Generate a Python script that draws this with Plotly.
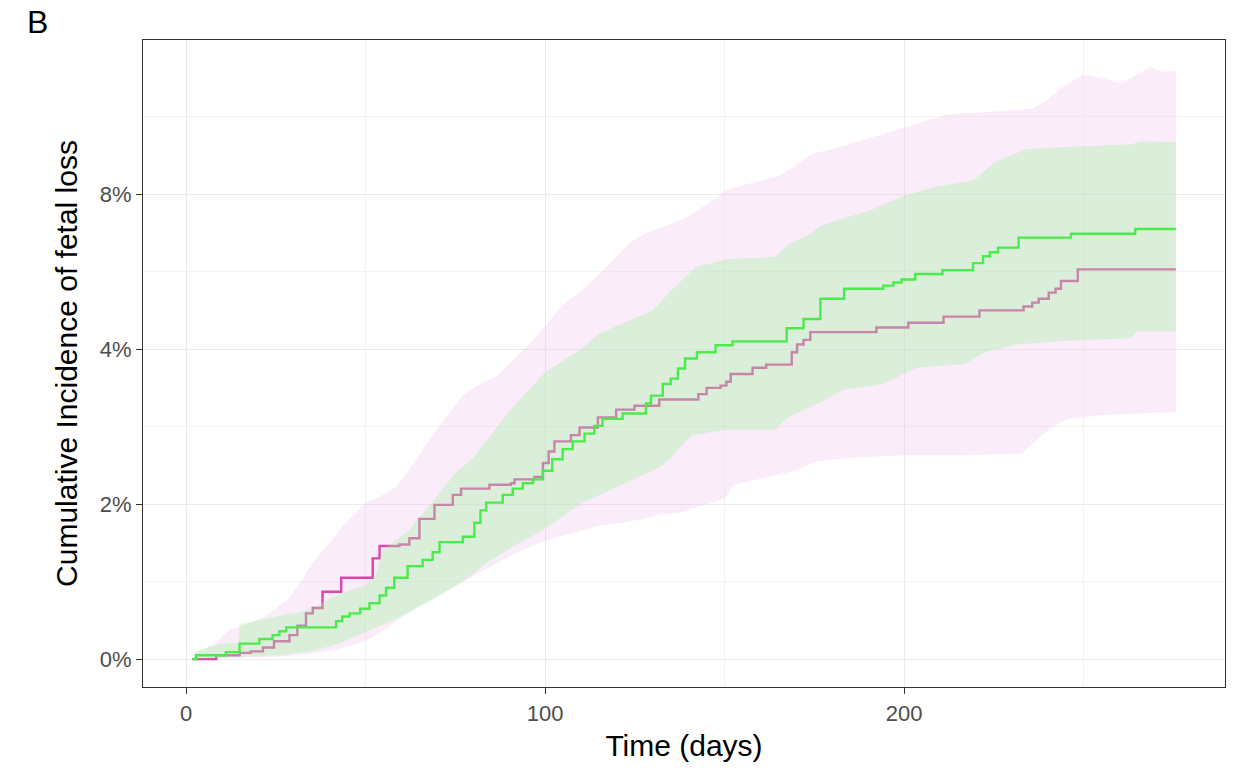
import plotly.graph_objects as go

# ---- data (days, cumulative incidence in plotted axis units) ----
pink_day = [1.7, 8.4, 14.9, 18, 21.4, 24.5, 28.8, 31, 33.4, 35.3, 38, 43.2, 52, 53.9, 59.4, 62.2, 65, 69.2,
            74.3, 76.6, 84.5, 90.5, 91.5, 97, 99.4, 101, 102.6, 107.2, 109.6, 114.7, 119.8, 124.9, 131.8,
            142.7, 145, 148.9, 150.5, 151.7, 157.8, 161.6, 168.7, 170.2, 172, 173.9, 192.3, 201.2, 211, 221,
            233.3, 235.7, 237.5, 240.3, 242.2, 243.7, 248.4, 275.7]
pink_val = [0, 0.05, 0.08, 0.1, 0.15, 0.23, 0.31, 0.43, 0.59, 0.66, 0.87, 1.05, 1.3, 1.46, 1.48, 1.56, 1.81, 1.99,
            2.12, 2.2, 2.25, 2.27, 2.32, 2.35, 2.53, 2.68, 2.81, 2.89, 2.99, 3.12, 3.22, 3.27, 3.35,
            3.42, 3.5, 3.53, 3.58, 3.68, 3.76, 3.8, 3.96, 4.06, 4.12, 4.22, 4.28, 4.34, 4.42, 4.5,
            4.55, 4.6, 4.65, 4.73, 4.78, 4.88, 5.03, 5.03]

green_day = [1.7, 2.8, 11.1, 14.9, 20.4, 24.1, 26, 27.9, 41.8, 43.5, 45.5, 48.5, 51.1, 53.9, 55.7, 58, 61.7,
             65.9, 68.7, 70.6, 77.1, 80.3, 82, 83.6, 88.2, 91, 93.8, 96.6, 99.4, 102, 104.9, 107.7, 111,
             113.7, 116, 121.6, 128.1, 129.5, 132.8, 135, 137, 139, 142.3, 147.5, 152.2, 167.3, 172, 176.7,
             183.3, 194.2, 197, 199.3, 203.1, 210.7, 219.2, 222, 223.9, 226.2, 231.9, 246.5, 264.4, 275.7]
green_val = [0, 0.05, 0.09, 0.2, 0.26, 0.31, 0.36, 0.41, 0.49, 0.55, 0.59, 0.65, 0.72, 0.82, 0.92, 1.05, 1.2,
             1.28, 1.38, 1.51, 1.58, 1.76, 1.92, 2.02, 2.12, 2.2, 2.27, 2.32, 2.43, 2.58, 2.71, 2.81, 2.91,
             3.01, 3.1, 3.17, 3.3, 3.4, 3.55, 3.62, 3.75, 3.88, 3.96, 4.05, 4.1, 4.27, 4.39, 4.65,
             4.78, 4.82, 4.86, 4.9, 4.97, 5.02, 5.11, 5.2, 5.25, 5.31, 5.44, 5.49, 5.55, 5.55]

green_up_day = [1.7, 2.5, 10, 14.5, 15, 20, 28, 32, 37, 43, 50, 53, 54.5, 62, 69, 75, 80, 85, 90, 95, 100, 105,
                110, 115, 120, 125, 130, 135, 142, 151, 164, 167.5, 174, 177, 191, 200, 209, 219.5, 225, 234,
                245, 263, 266, 275.7]
green_up_val = [0, 0.1, 0.2, 0.2, 0.45, 0.5, 0.58, 0.6, 0.7, 0.85, 0.95, 1.1, 1.4, 1.66, 2.05, 2.4, 2.6, 2.9,
                3.2, 3.45, 3.7, 3.85, 4.0, 4.2, 4.3, 4.4, 4.5, 4.75, 5.06, 5.16, 5.19, 5.34, 5.49, 5.6, 5.8,
                5.98, 6.1, 6.18, 6.41, 6.58, 6.61, 6.64, 6.68, 6.67]

green_lo_day = [1.7, 26, 35, 42.7, 50, 57.6, 63, 70, 77, 84, 91, 100, 109.6, 118.8, 128, 132, 134.7, 138.5,
                141, 151, 164, 167.7, 176, 182.8, 194, 200, 203.6, 216.8, 222.5, 231, 245, 263, 265, 275.7]
green_lo_val = [0, 0.05, 0.1, 0.2, 0.35, 0.5, 0.62, 0.8, 1.0, 1.25, 1.45, 1.68, 2.0, 2.2, 2.4, 2.48, 2.58, 2.78,
                2.89, 2.96, 2.96, 3.12, 3.3, 3.47, 3.55, 3.68, 3.76, 3.81, 3.96, 4.06, 4.11, 4.14, 4.23, 4.23]

pink_up_day = [1.7, 2.8, 8, 12, 17, 21.4, 25, 28.8, 32, 35.3, 40, 43.6, 50, 54, 58.5, 63, 68.7, 73, 77, 82,
               86.4, 91, 95.6, 100, 105, 110, 114.2, 119, 123.5, 128, 132, 137, 141.3, 146, 151, 158, 165,
               170, 174.3, 183, 192.3, 200.8, 206, 212, 220, 228, 235.7, 240, 244, 250, 255, 260.5, 265,
               268.7, 272, 275.7]
pink_up_val = [0, 0.08, 0.2, 0.38, 0.45, 0.54, 0.65, 0.79, 1.0, 1.25, 1.5, 1.71, 2.02, 2.1, 2.22, 2.5, 2.89,
               3.15, 3.4, 3.55, 3.65, 3.85, 4.06, 4.3, 4.57, 4.75, 4.93, 5.15, 5.37, 5.5, 5.57, 5.65, 5.75,
               5.9, 6.06, 6.15, 6.23, 6.38, 6.52, 6.62, 6.75, 6.87, 6.95, 7.03, 7.05, 7.08, 7.1, 7.22, 7.38,
               7.54, 7.5, 7.43, 7.55, 7.64, 7.58, 7.59]

pink_lo_day = [1.7, 26, 35, 42.7, 50, 56, 63, 70, 77, 84, 91, 100, 107, 114, 121, 128, 132, 137.4, 143, 150,
               152.6, 160, 169.6, 175.3, 185, 200, 215, 232.8, 235.7, 240, 245, 255, 265, 275.7]
pink_lo_val = [0, 0.03, 0.07, 0.13, 0.23, 0.4, 0.64, 0.82, 1.0, 1.18, 1.35, 1.53, 1.62, 1.71, 1.76, 1.81, 1.87,
               1.89, 1.97, 2.07, 2.25, 2.33, 2.43, 2.55, 2.6, 2.63, 2.63, 2.65, 2.78, 2.95, 3.09, 3.15, 3.17, 3.19]

y_tickvals = [0, 2, 4, 6]
y_ticktext = ["0%", "2%", "4%", "8%"]
x_tickvals = [0, 100, 200]

PINK = "#DC46AA"
GREEN = "#4CEB4C"
PINK_FILL = "rgba(236,180,230,0.25)"
GREEN_FILL = "rgba(164,241,166,0.37)"

fig = go.Figure()
# pink ribbon
fig.add_trace(go.Scatter(x=pink_lo_day, y=pink_lo_val, mode="lines", line=dict(width=0, shape="linear"),
                         hoverinfo="skip", showlegend=False))
fig.add_trace(go.Scatter(x=pink_up_day, y=pink_up_val, mode="lines", line=dict(width=0, shape="linear"),
                         fill="tonexty", fillcolor=PINK_FILL, hoverinfo="skip", showlegend=False))
# pink line
fig.add_trace(go.Scatter(x=pink_day, y=pink_val, mode="lines", line=dict(color=PINK, width=2.4, shape="hv"),
                         showlegend=False))
# green ribbon
fig.add_trace(go.Scatter(x=green_lo_day, y=green_lo_val, mode="lines", line=dict(width=0, shape="linear"),
                         hoverinfo="skip", showlegend=False))
fig.add_trace(go.Scatter(x=green_up_day, y=green_up_val, mode="lines", line=dict(width=0, shape="linear"),
                         fill="tonexty", fillcolor=GREEN_FILL, hoverinfo="skip", showlegend=False))
# green line
fig.add_trace(go.Scatter(x=green_day, y=green_val, mode="lines", line=dict(color=GREEN, width=2.4, shape="hv"),
                         showlegend=False))

FONT = "Liberation Sans, Arial, sans-serif"
axis_common = dict(
    showline=True, mirror=True, linecolor="#333333", linewidth=1.3,
    ticks="outside", ticklen=6, tickwidth=1.2, tickcolor="#333333",
    gridcolor="#EBEBEB", gridwidth=1.3, zeroline=False,
    tickfont=dict(family=FONT, size=22, color="#4D4D4D"),
)

fig.update_layout(
    width=1237, height=770,
    margin=dict(l=143, r=12, t=40, b=83),
    paper_bgcolor="white", plot_bgcolor="white",
    font=dict(family=FONT),
    xaxis=dict(range=[-12.0, 289.4], tickmode="array", tickvals=x_tickvals,
               minor=dict(dtick=50, tick0=0, showgrid=True, gridcolor="#F3F3F3", gridwidth=0.8, ticks=""),
               title=dict(text="Time (days)", font=dict(family=FONT, size=30, color="black"), standoff=10),
               **axis_common),
    yaxis=dict(range=[-0.36, 7.99], tickmode="array", tickvals=y_tickvals, ticktext=y_ticktext,
               minor=dict(dtick=1, tick0=0, showgrid=True, gridcolor="#F3F3F3", gridwidth=0.8, ticks=""),
               title=dict(text="Cumulative Incidence of fetal loss", font=dict(family=FONT, size=30, color="black"),
                          standoff=13),
               **axis_common),
    annotations=[dict(text="B", xref="paper", yref="paper", x=-0.109, y=1.0, yshift=18, xanchor="left",
                      yanchor="middle", showarrow=False, font=dict(family=FONT, size=32, color="black"))],
)

fig.write_html("out.html")
